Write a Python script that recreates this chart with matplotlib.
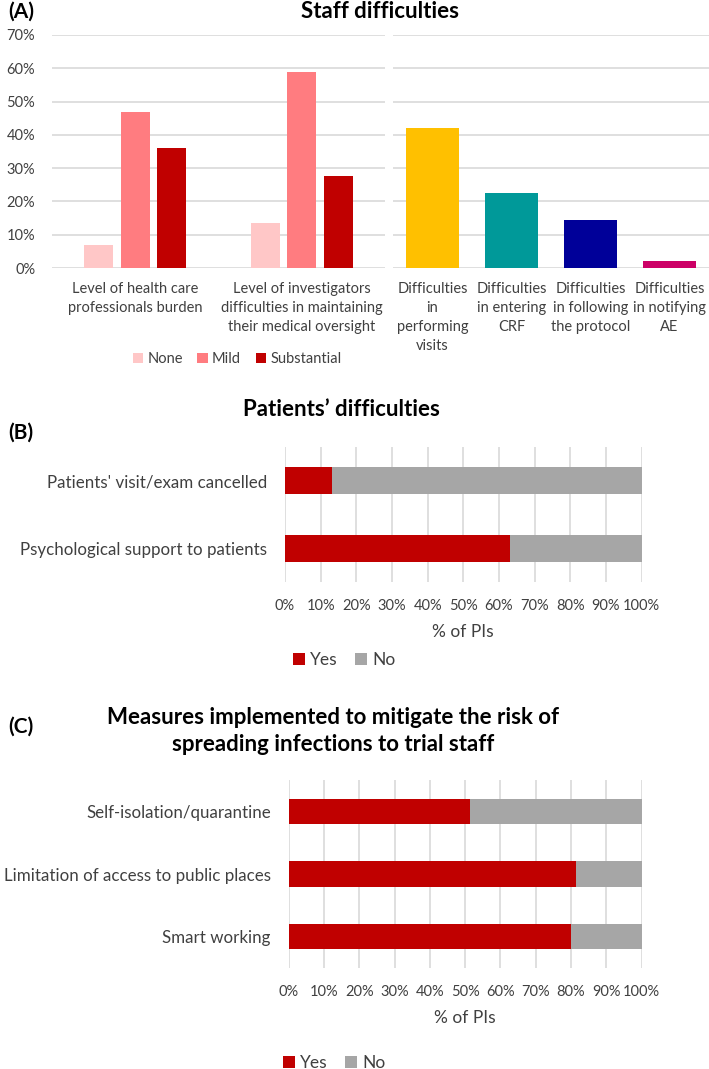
import matplotlib.pyplot as plt
import numpy as np

plt.rcParams['font.family'] = ['Lato', 'DejaVu Sans']

# panel A data
burden_labels = ["Level of health care\nprofessionals burden",
                 "Level of investigators\ndifficulties in maintaining\ntheir medical oversight"]
severity = ["None", "Mild", "Substantial"]
none_vals = [7.0, 13.4]
mild_vals = [47.0, 59.0]
subst_vals = [36.0, 27.6]

diff_labels = ["Difficulties\nin\nperforming\nvisits", "Difficulties\nin entering\nCRF",
               "Difficulties\nin following\nthe protocol", "Difficulties\nin notifying\nAE"]
diff_vals = [42.2, 22.6, 14.3, 2.0]

# panel B data
patient_labels = ["Patients' visit/exam cancelled", "Psychological support to patients"]
patient_yes = [13.3, 63.2]

# panel C data
measure_labels = ["Self-isolation/quarantine", "Limitation of access to public places", "Smart working"]
measure_yes = [51.5, 81.4, 80.0]

sev_colors = ["#FFC7C7", "#FF7C80", "#C00000"]
diff_colors = ["#FFC000", "#009999", "#000099", "#CC0066"]
yes_color = "#C00000"
no_color = "#A6A6A6"
grid_c = "#D9D9D9"
txt = "#404040"

W, H = 709, 1069
fig = plt.figure(figsize=(W / 100, H / 100), dpi=100)


def box(x0, y0, x1, y1):
    return [x0 / W, 1 - y1 / H, (x1 - x0) / W, (y1 - y0) / H]


def pt(x, y):
    return x / W, 1 - y / H


def clean(ax):
    for s in ax.spines.values():
        s.set_visible(False)
    ax.tick_params(length=0, colors=txt)
    ax.set_axisbelow(True)


# ---- panel A left
axl = fig.add_axes(box(52, 35, 385, 268))
clean(axl)
x = np.arange(len(burden_labels))
for i, (vals, c, lab) in enumerate(zip([none_vals, mild_vals, subst_vals], sev_colors, severity)):
    axl.bar(x + (i - 1) * 0.22, vals, width=0.175, color=c, label=lab)
axl.set_xlim(-0.5, 1.5)
axl.set_ylim(0, 70)
axl.set_yticks(range(0, 71, 10))
axl.set_yticklabels([f"{v}%" for v in range(0, 71, 10)], fontsize=10.5)
axl.set_xticks(x)
axl.set_xticklabels(burden_labels, fontsize=10.5, linespacing=1.45, va='top')
axl.tick_params(axis='x', pad=10)
axl.tick_params(axis='y', pad=12)
axl.yaxis.grid(True, color=grid_c, lw=1.2)
axl.legend(loc='center', bbox_to_anchor=pt(237, 359), bbox_transform=fig.transFigure,
           ncol=3, frameon=False, fontsize=10.5, handlelength=0.7, handleheight=0.7,
           handletextpad=0.3, columnspacing=1.0, labelcolor=txt)

# ---- panel A right
axr = fig.add_axes(box(393, 35, 709, 268))
clean(axr)
x2 = np.arange(len(diff_labels))
axr.bar(x2, diff_vals, width=0.67, color=diff_colors)
axr.set_xlim(-0.5, 3.5)
axr.set_ylim(0, 70)
axr.set_yticks(range(0, 71, 10))
axr.set_yticklabels([])
axr.set_xticks(x2)
axr.set_xticklabels(diff_labels, fontsize=10.5, linespacing=1.45, va='top')
axr.tick_params(axis='x', pad=10)
axr.yaxis.grid(True, color=grid_c, lw=1.2)

fig.text(*pt(8, 12), "(A)", fontsize=15, fontweight='bold', va='center', ha='left')
fig.text(*pt(380, 12), "Staff difficulties", fontsize=16, fontweight='bold', va='center', ha='center')


def stacked(ax, labels, yes):
    clean(ax)
    y = np.arange(len(labels))
    no = [100 - v for v in yes]
    ax.barh(y, yes, height=0.4, color=yes_color, label="Yes")
    ax.barh(y, no, left=yes, height=0.4, color=no_color, label="No")
    ax.set_xlim(0, 100)
    ax.set_ylim(len(labels) - 0.5, -0.5)
    ax.set_xticks(range(0, 101, 10))
    ax.set_xticklabels([f"{v}%" for v in range(0, 101, 10)], fontsize=10.5)
    ax.set_yticks(y)
    ax.set_yticklabels(labels, fontsize=12.2)
    ax.tick_params(axis='x', pad=12)
    ax.tick_params(axis='y', pad=13)
    ax.xaxis.grid(True, color=grid_c, lw=1.2)
    ax.set_xlabel("% of PIs", fontsize=12.5, color=txt, labelpad=8)


# ---- panel B
axb = fig.add_axes(box(285, 447, 641.6, 582))
stacked(axb, patient_labels, patient_yes)
axb.legend(loc='center', bbox_to_anchor=pt(344, 660), bbox_transform=fig.transFigure,
           ncol=2, frameon=False, fontsize=12.5, handlelength=0.7, handleheight=0.7,
           handletextpad=0.3, columnspacing=1.0, labelcolor=txt)
fig.text(*pt(8, 433), "(B)", fontsize=15, fontweight='bold', va='center', ha='left')
fig.text(*pt(341, 410), "Patients\u2019 difficulties", fontsize=16, fontweight='bold',
         va='center', ha='center')

# ---- panel C
axc = fig.add_axes(box(288.7, 780, 641.6, 968))
stacked(axc, measure_labels, measure_yes)
axc.legend(loc='center', bbox_to_anchor=pt(334, 1063), bbox_transform=fig.transFigure,
           ncol=2, frameon=False, fontsize=12.5, handlelength=0.7, handleheight=0.7,
           handletextpad=0.3, columnspacing=1.0, labelcolor=txt)
fig.text(*pt(8, 727), "(C)", fontsize=15, fontweight='bold', va='center', ha='left')
fig.text(*pt(333, 731), "Measures implemented to mitigate the risk of\nspreading infections to trial staff",
         fontsize=16, fontweight='bold', va='center', ha='center', linespacing=1.35)

fig.savefig("out.png", dpi=100)
